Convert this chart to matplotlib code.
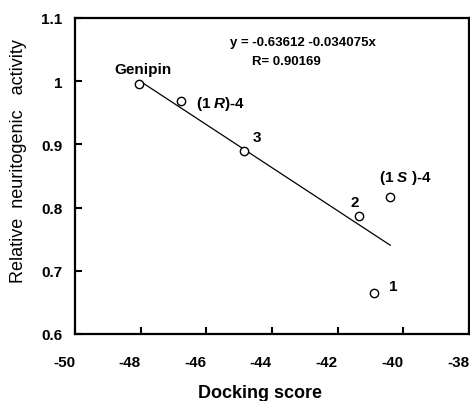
import matplotlib
matplotlib.use("Agg")
import matplotlib.pyplot as plt
import numpy as np

plt.rcParams['font.family'] = ['Liberation Sans', 'DejaVu Sans']
plt.rcParams['mathtext.fontset'] = 'custom'
plt.rcParams['mathtext.rm'] = 'Liberation Sans:bold'
plt.rcParams['mathtext.bf'] = 'Liberation Sans:bold'
plt.rcParams['mathtext.bfit'] = 'Liberation Sans:bold:italic'
plt.rcParams['mathtext.it'] = 'Liberation Sans:bold:italic'

# data
names = ["Genipin", "(1 $\\mathit{R}$)-4", "3", "2", "(1 $\\mathit{S}$ )-4", "1"]
docking = [-48.04, -46.78, -44.85, -41.36, -40.40, -40.88]
activity = [0.996, 0.969, 0.889, 0.786, 0.816, 0.665]
# fit reported on the chart
intercept = -0.63612
slope = -0.034075
r_value = 0.90169

# label offsets in points (dx, dy to baseline) and alignment
label_pos = [(2.3, 8, 'center'), (11, -4.2, 'left'), (6.3, 7.6, 'left'),
             (-3, 7.8, 'center'), (-8, 12.2, 'left'), (10.6, 2.2, 'left')]

fig = plt.figure(figsize=(4.7, 4.02), dpi=100)
ax = fig.add_axes([75 / 470, 1 - 335 / 402, 394 / 470, 316 / 402])

xfit = np.array([min(docking), max(docking)])
ax.plot(xfit, intercept + slope * xfit, color='black', lw=0.9, zorder=2)
ax.plot(docking, activity, 'o', mfc='white', mec='black', ms=6, mew=1.0, zorder=3)

for n, x, y, (dx, dy, ha) in zip(names, docking, activity, label_pos):
    ax.annotate(n, (x, y), xytext=(dx, dy), textcoords='offset points',
                ha=ha, va='baseline', fontsize=11, fontweight='bold')

ax.text(0.393, 0.924, "y = -0.63612 -0.034075x", transform=ax.transAxes,
        fontsize=9.5, fontweight='bold', va='center', ha='left')
ax.text(0.449, 0.864, "R= %.5f" % r_value, transform=ax.transAxes,
        fontsize=9.5, fontweight='bold', va='center', ha='left')

ax.set_xlim(-50, -38)
ax.set_ylim(0.6, 1.1)
ax.set_xticks([-50, -48, -46, -44, -42, -40, -38])
ax.set_yticks([0.6, 0.7, 0.8, 0.9, 1.0, 1.1])
ax.set_xticklabels(["-50", "-48", "-46", "-44", "-42", "-40", "-38"])
ax.set_yticklabels(["0.6", "0.7", "0.8", "0.9", "1", "1.1"])
ax.tick_params(direction='in', length=5, width=1.5, labelsize=11)
ax.tick_params(axis='x', pad=15)
ax.tick_params(axis='y', pad=9)
for lab in ax.get_xticklabels():
    lab.set_fontweight('bold')
    lab.set_ha('right')
for lab in ax.get_yticklabels():
    lab.set_fontweight('bold')
for s in ax.spines.values():
    s.set_linewidth(1.6)

ax.set_xlabel("Docking score", fontsize=13, fontweight='bold')
ax.xaxis.set_label_coords((260 - 75) / 394, -0.157)
ax.xaxis.label.set_va('top')
ax.set_ylabel("Relative  neuritogenic   activity", fontsize=13)
ax.yaxis.set_label_coords(-0.122, 0.55)

fig.savefig("out.png", dpi=100)
